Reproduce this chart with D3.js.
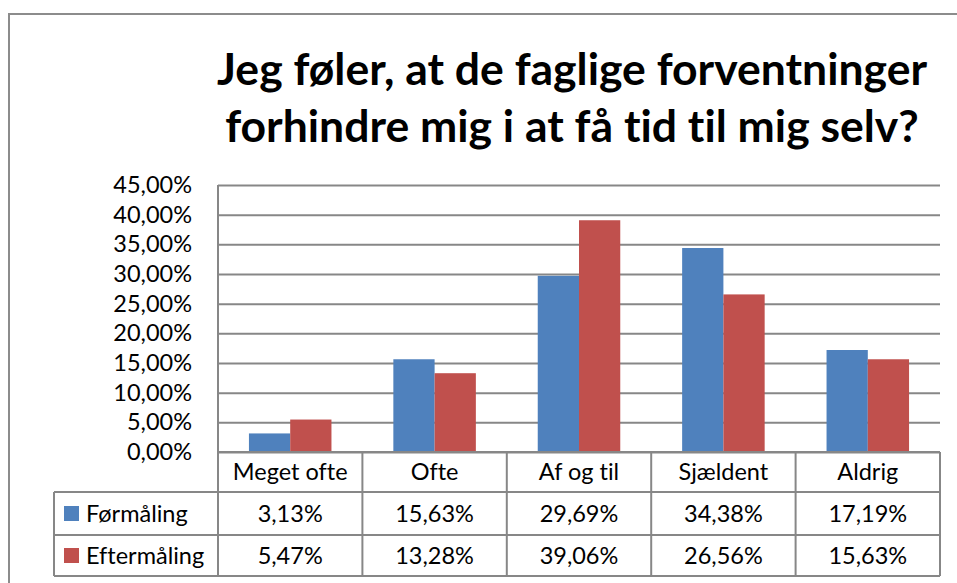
<!DOCTYPE html>
<html>
<head>
<meta charset="utf-8">
<script src="https://cdn.jsdelivr.net/npm/d3@7"></script>
<style>
  body { margin: 0; background: #fff; }
  svg { display: block; font-family: Lato, "Open Sans", sans-serif; font-variant-ligatures: none; }
</style>
</head>
<body>
<div id="chart"></div>
<script>
const categories = ["Meget ofte", "Ofte", "Af og til", "Sjældent", "Aldrig"];
const seriesNames = ["Førmåling", "Eftermåling"];
const forMaaling = [3.13, 15.63, 29.69, 34.38, 17.19];
const efterMaaling = [5.47, 13.28, 39.06, 26.56, 15.63];
const yTicks = [0, 5, 10, 15, 20, 25, 30, 35, 40, 45];
const titleLines = ["Jeg føler, at de faglige forventninger", "forhindre mig i at få tid til mig selv?"];

const colors = ["#4F81BD", "#C0504D"];
const gridColor = "#878787";

const width = 957, height = 583;
const plot = { left: 218, right: 940, top: 185, bottom: 452 };
const rowH = [40, 43, 41]; // header, series 1, series 2
const tableLeft = 54;

const svg = d3.select("#chart").append("svg")
    .attr("width", width)
    .attr("height", height);

// chart frame (cropped on the right and bottom)
svg.append("path")
    .attr("d", `M9,${height + 5}V14H${width + 5}`)
    .attr("fill", "none")
    .attr("stroke", "#8c8c8c")
    .attr("stroke-width", 2);

// title
const title = svg.append("text")
    .attr("text-anchor", "middle")
    .attr("font-weight", "bold")
    .attr("font-size", 44.5)
    .attr("fill", "#000");
title.selectAll("tspan").data(titleLines).join("tspan")
    .attr("x", 572)
    .attr("y", (d, i) => 85 + i * 57)
    .text(d => d);

const x = d3.scaleBand()
    .domain(categories)
    .range([plot.left, plot.right])
    .paddingInner(0)
    .paddingOuter(0);

const x1 = d3.scaleBand()
    .domain(seriesNames)
    .range([0, x.bandwidth()])
    .paddingInner(0)
    .paddingOuter(0.75);

const y = d3.scaleLinear()
    .domain([0, 45])
    .range([plot.bottom, plot.top]);

const fmt = v => v.toFixed(2).replace(".", ",") + "%";

// gridlines
svg.append("g")
    .attr("transform", `translate(${plot.left},0)`)
    .call(d3.axisLeft(y).tickValues(yTicks).tickSize(-(plot.right - plot.left)).tickFormat(""))
    .call(g => g.select(".domain").remove())
    .call(g => g.selectAll("line").attr("stroke", gridColor).attr("stroke-width", 2));

// y labels
svg.append("g")
    .attr("transform", `translate(${plot.left},0)`)
    .call(d3.axisLeft(y).tickValues(yTicks).tickSize(0).tickPadding(26).tickFormat(fmt))
    .call(g => g.select(".domain").remove())
    .call(g => g.selectAll("text")
        .attr("font-family", "Lato, sans-serif")
        .attr("font-size", 23.5)
        .attr("fill", "#000"));

// bars
const series = [forMaaling, efterMaaling];
const barData = [];
categories.forEach((c, i) => {
    seriesNames.forEach((s, j) => barData.push({ cat: c, series: s, value: series[j][i], j }));
});

svg.append("g").selectAll("rect")
    .data(barData)
    .join("rect")
    .attr("x", d => x(d.cat) + x1(d.series))
    .attr("y", d => y(d.value))
    .attr("width", x1.bandwidth())
    .attr("height", d => y(0) - y(d.value))
    .attr("fill", d => colors[d.j]);

// left plot border
svg.append("line")
    .attr("x1", plot.left).attr("x2", plot.left)
    .attr("y1", plot.top).attr("y2", plot.bottom)
    .attr("stroke", gridColor).attr("stroke-width", 2);

// data table
const rowTop = [plot.bottom, plot.bottom + rowH[0], plot.bottom + rowH[0] + rowH[1]];
const tableBottom = rowTop[2] + rowH[2];
const tbl = svg.append("g")
    .attr("stroke", gridColor)
    .attr("stroke-width", 2)
    .attr("fill", "none");

// horizontal lines
tbl.append("line").attr("x1", plot.left).attr("x2", plot.right).attr("y1", rowTop[0]).attr("y2", rowTop[0]);
[rowTop[1], rowTop[2], tableBottom].forEach(yy => {
    tbl.append("line").attr("x1", tableLeft).attr("x2", plot.right).attr("y1", yy).attr("y2", yy);
});
// vertical lines
tbl.append("line").attr("x1", tableLeft).attr("x2", tableLeft).attr("y1", rowTop[1]).attr("y2", tableBottom);
const colEdges = categories.map(c => x(c)).concat([plot.right]);
colEdges.forEach(xx => {
    tbl.append("line").attr("x1", xx).attr("x2", xx).attr("y1", rowTop[0]).attr("y2", tableBottom);
});

const txt = svg.append("g")
    .attr("font-size", 23.5)
    .attr("fill", "#000");

txt.selectAll(".cat").data(categories).join("text")
    .attr("class", "cat")
    .attr("x", d => x(d) + x.bandwidth() / 2)
    .attr("y", rowTop[0] + rowH[0] / 2)
    .attr("dy", "0.35em")
    .attr("text-anchor", "middle")
    .text(d => d);

seriesNames.forEach((s, j) => {
    const cy = rowTop[j + 1] + rowH[j + 1] / 2;
    svg.append("rect")
        .attr("x", 64).attr("y", cy - 7.5)
        .attr("width", 15).attr("height", 15)
        .attr("fill", colors[j]);
    txt.append("text")
        .attr("x", 86).attr("y", cy).attr("dy", "0.35em")
        .text(s);
    txt.selectAll(".v" + j).data(series[j]).join("text")
        .attr("class", "v" + j)
        .attr("x", (d, i) => x(categories[i]) + x.bandwidth() / 2)
        .attr("y", cy).attr("dy", "0.35em")
        .attr("text-anchor", "middle")
        .text(d => fmt(d));
});
</script>
</body>
</html>
